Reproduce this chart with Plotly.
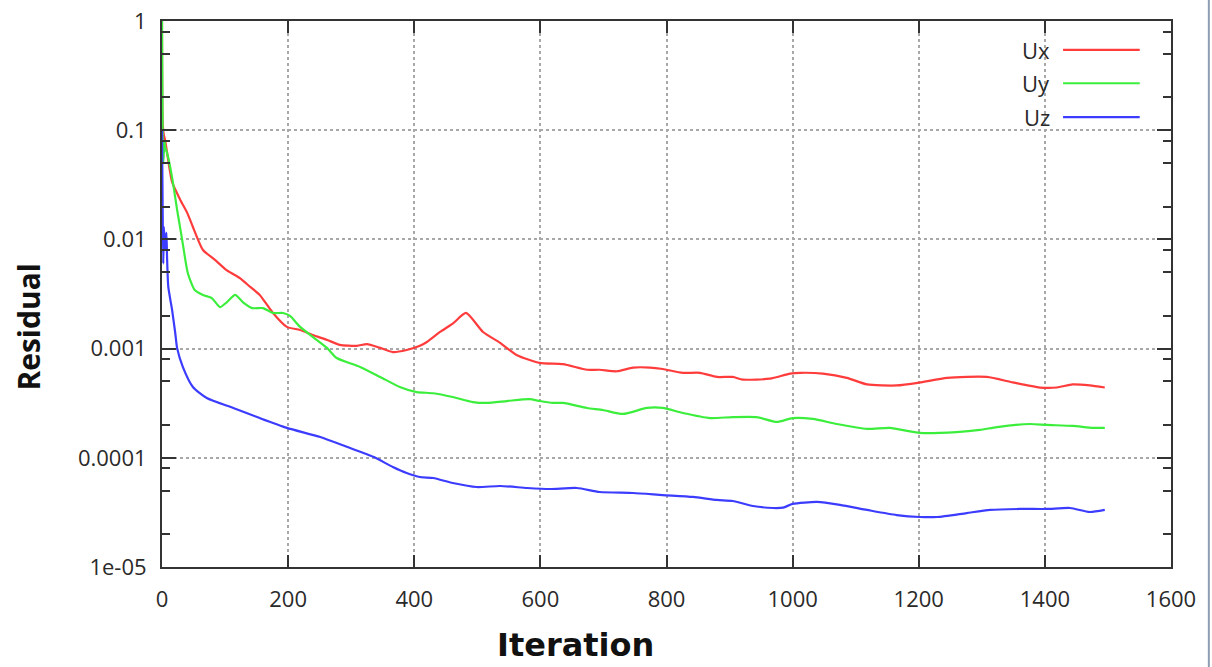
import plotly.graph_objects as go

# ---------------- data ----------------
series_names = ["Ux", "Uy", "Uz"]
series_colors = ["#ff3c3c", "#3cee3c", "#3c3cff"]

ux_iter = [0, 1, 3, 5, 16, 29, 40, 49, 65, 84, 103, 124, 140, 155, 176, 198, 219, 239, 262, 282,
           309, 325, 345, 366, 388, 409, 420, 441, 462, 482, 509, 536, 563, 599, 636, 674, 694,
           721, 747, 774, 794, 826, 853, 880, 905, 921, 964, 996, 1012, 1048, 1086, 1118, 1165,
           1202, 1245, 1308, 1349, 1392, 1419, 1444, 1471, 1495]
ux_res = [1.0, 0.12, 0.09, 0.081, 0.0336, 0.023, 0.0175, 0.013, 0.008, 0.0065, 0.0052, 0.0044,
          0.00367, 0.0031, 0.00212, 0.00158, 0.00148, 0.00133, 0.0012, 0.00108,
          0.00106, 0.0011, 0.00102, 0.00093, 0.00097, 0.00106, 0.00115, 0.00142, 0.00171, 0.00212,
          0.00142, 0.00113, 0.00087, 0.00074, 0.00072, 0.00064, 0.00064,
          0.00062, 0.00067, 0.00067, 0.00065, 0.0006, 0.0006, 0.00055, 0.00055, 0.00052, 0.00053,
          0.00059, 0.0006, 0.00059, 0.00054, 0.00047, 0.00046,
          0.00049, 0.00054, 0.00055, 0.00049, 0.00044, 0.00044, 0.00047, 0.00046, 0.00044]

uy_iter = [0, 1, 2, 4, 5, 8, 16, 24, 32, 41, 52, 65, 79, 92, 103, 116, 128, 143, 160, 176, 192,
           203, 219, 239, 262, 277, 314, 346, 377, 404, 430, 461, 493, 515, 547, 583, 599, 620,
           636, 674, 699, 731, 769, 794, 826, 869, 905, 943, 975, 1000, 1032, 1070, 1118, 1154,
           1202, 1260, 1297, 1324, 1376, 1403, 1444, 1476, 1495]
uy_res = [1.0, 0.1, 0.05, 0.08, 0.07, 0.062, 0.037, 0.0186, 0.0099, 0.0049, 0.00344, 0.0031,
          0.0029, 0.0024, 0.00267, 0.0031, 0.00267, 0.00235, 0.00235, 0.00212, 0.00212,
          0.00199, 0.00158, 0.00128, 0.00101, 0.00082, 0.00068, 0.00055, 0.000445, 0.0004,
          0.00039, 0.00036, 0.000324, 0.000318, 0.000331, 0.000345, 0.000331, 0.000318,
          0.000318, 0.000286, 0.000274, 0.000252, 0.000286, 0.000286, 0.000257, 0.000231,
          0.000236, 0.000236, 0.000213, 0.000231, 0.000227, 0.000204, 0.000184, 0.000188,
          0.000169, 0.000172, 0.00018, 0.000191, 0.000204, 0.0002, 0.000196, 0.000188, 0.000188]

uz_iter = [0, 1, 2, 3, 5, 7, 8, 10, 16, 21, 24, 33, 49, 71, 113, 155, 198, 251, 293, 335, 366,
           388, 409, 430, 461, 499, 536, 579, 615, 658, 694, 747, 794, 842, 880, 905, 937, 969,
           985, 1000, 1039, 1075, 1118, 1165, 1202, 1229, 1276, 1313, 1360, 1403, 1440, 1471, 1495]
uz_res = [0.1, 0.02, 0.006, 0.013, 0.008, 0.0115, 0.0069, 0.00367, 0.00226, 0.00139, 0.00101,
          0.00068, 0.000445, 0.000353, 0.000286, 0.000231, 0.000188, 0.000155, 0.000126,
          0.000102, 0.0000824, 0.0000726, 0.0000667, 0.0000653, 0.0000588, 0.000054,
          0.0000552, 0.0000529, 0.0000518, 0.0000529, 0.0000486, 0.0000476, 0.0000456,
          0.0000438, 0.0000411, 0.0000402, 0.0000362, 0.0000347, 0.000035, 0.0000378,
          0.0000394, 0.000037, 0.0000333, 0.0000299, 0.0000287, 0.0000287, 0.0000312,
          0.0000333, 0.000034, 0.000034, 0.0000347, 0.0000319, 0.0000333]

x_tickvals = [0, 200, 400, 600, 800, 1000, 1200, 1400, 1600]
x_ticktext = ["0", "200", "400", "600", "800", "1000", "1200", "1400", "1600"]
y_tickvals = [1, 0.1, 0.01, 0.001, 0.0001, 0.00001]
y_ticktext = ["1", "0.1", "0.01", "0.001", "0.0001", "1e-05"]
y_minor_vals = [m * d for d in [1e-5, 1e-4, 1e-3, 1e-2, 1e-1] for m in (2, 5, 8)]

xs = [ux_iter, uy_iter, uz_iter]
ys = [ux_res, uy_res, uz_res]

# ---------------- figure ----------------
fig = go.Figure()
for name, color, x, y in zip(series_names, series_colors, xs, ys):
    fig.add_trace(go.Scatter(x=x, y=y, mode="lines", name=name,
                             line=dict(color=color, width=2.2, shape="spline", smoothing=0.6),
                             showlegend=False))

tick_font = dict(family="Open Sans", size=22, color="#2a2a2a")

fig.update_layout(
    width=1212, height=667,
    margin=dict(l=162, r=41, t=21, b=100),
    paper_bgcolor="white", plot_bgcolor="white",
    font=dict(family="Open Sans", color="#2a2a2a"),
    xaxis=dict(
        range=[0, 1600], tickmode="array", tickvals=x_tickvals, ticktext=x_ticktext,
        showline=True, linecolor="#333333", linewidth=2, mirror="ticks",
        ticks="inside", ticklen=12, tickwidth=2, tickcolor="#333333",
        showgrid=True, gridcolor="#a8a8a8", griddash="dot", gridwidth=1.5,
        zeroline=False, tickfont=tick_font, ticklabelstandoff=12, automargin=False,
    ),
    yaxis=dict(
        type="log", range=[-5, 0], tickmode="array", tickvals=y_tickvals, ticktext=y_ticktext,
        showline=True, linecolor="#333333", linewidth=2, mirror="ticks",
        ticks="inside", ticklen=14, tickwidth=2, tickcolor="#333333",
        showgrid=True, gridcolor="#a8a8a8", griddash="dot", gridwidth=1.5,
        zeroline=False, tickfont=tick_font, ticklabelstandoff=9, automargin=False,
        minor=dict(tickmode="array", tickvals=y_minor_vals, ticks="inside", ticklen=8,
                   tickwidth=2, tickcolor="#333333", showgrid=False),
    ),
)

# axis titles (placed as in the reference)
fig.add_annotation(xref="paper", yref="paper", x=0.41, y=-0.142, text="<b>Iteration</b>",
                   showarrow=False, xanchor="center", yanchor="middle",
                   font=dict(family="DejaVu Sans", size=32, color="#111111"))
fig.add_annotation(xref="paper", yref="paper", x=-0.132, y=0.44, text="<b>Residual</b>",
                   showarrow=False, textangle=-90, xanchor="center", yanchor="middle",
                   font=dict(family="Open Sans", size=30, color="#111111"))

# gnuplot-style key (text, then line sample) in the top-right corner
key_y = [0.947, 0.886, 0.824]
for name, color, ky in zip(series_names, series_colors, key_y):
    fig.add_annotation(xref="paper", yref="paper", x=0.882, y=ky, text=name,
                       showarrow=False, xanchor="right", yanchor="middle",
                       font=dict(family="Open Sans", size=22, color="#2a2a2a"))
    fig.add_shape(type="line", xref="paper", yref="paper", x0=0.893, x1=0.969, y0=ky, y1=ky,
                  line=dict(color=color, width=2.2))

# thin window border at the right edge of the screenshot
fig.add_shape(type="line", xref="paper", yref="paper", x0=1.0375, x1=1.0375,
              y0=-0.19, y1=1.04, line=dict(color="#8d9db3", width=2))

fig.write_html("out.html")
